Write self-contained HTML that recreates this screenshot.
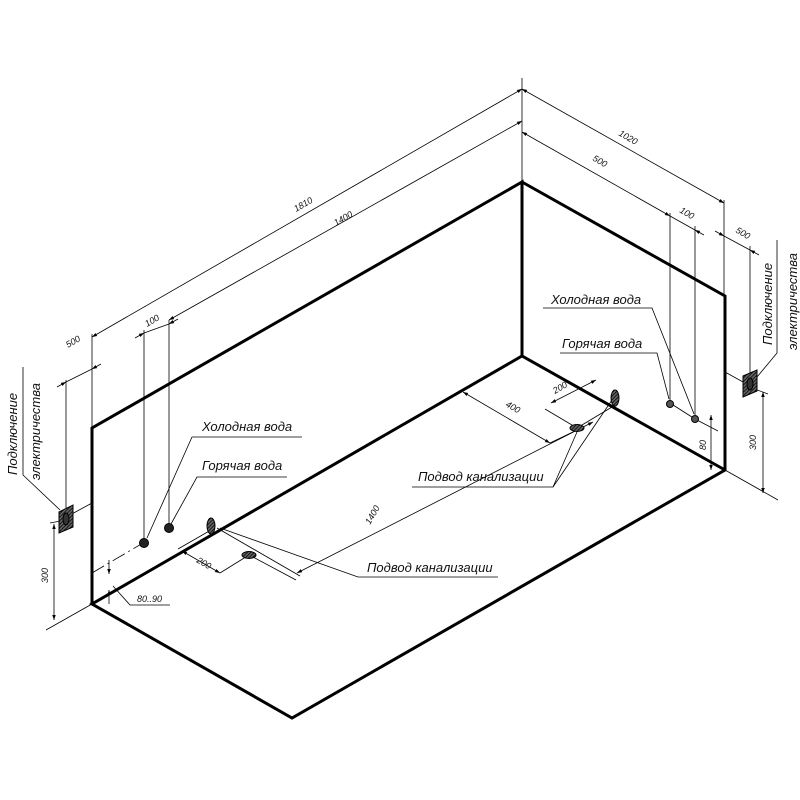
<!DOCTYPE html>
<html><head><meta charset="utf-8"><style>
html,body{margin:0;padding:0;background:#fff;}
svg{display:block;}
text{font-family:"Liberation Sans","DejaVu Sans",sans-serif;font-style:italic;fill:#111;}
.t{font-size:13px;}
.s{font-size:9px;}
</style></head><body>
<svg width="800" height="800" viewBox="0 0 800 800" xmlns="http://www.w3.org/2000/svg">
<defs>
<marker id="a" viewBox="0 0 10 10" refX="10" refY="5" markerWidth="8" markerHeight="5" orient="auto-start-reverse" markerUnits="userSpaceOnUse"><path d="M0,1.5 L10,5 L0,8.5 z" fill="#000"/></marker>
<pattern id="h" width="3" height="3" patternUnits="userSpaceOnUse" patternTransform="rotate(45)"><rect width="3" height="3" fill="#fff"/><line x1="0" y1="0" x2="0" y2="3" stroke="#000" stroke-width="1.6"/></pattern>
<pattern id="h2" width="2.5" height="2.5" patternUnits="userSpaceOnUse" patternTransform="rotate(45)"><rect width="2.5" height="2.5" fill="#666"/><line x1="0" y1="0" x2="0" y2="2.5" stroke="#000" stroke-width="1.6"/></pattern>
</defs>
<g stroke="#000" stroke-width="3" fill="none" stroke-linejoin="miter">
<polyline points="92,604 92,428 522,182 522,356"/>
<polyline points="522,182 725,296 725,470 292,718 92,604 522,356 725,470"/>
</g>
<g stroke="#000" stroke-width="0.8" fill="none">
<line x1="522" y1="78" x2="522" y2="182"/>
<line x1="92" y1="334" x2="92" y2="428"/>
<line x1="144" y1="330" x2="144" y2="540"/>
<line x1="169" y1="320" x2="169" y2="524"/>
<line x1="66" y1="380" x2="66" y2="508"/>
<line x1="724" y1="200" x2="724" y2="296"/>
<line x1="670" y1="213" x2="670" y2="400"/>
<line x1="695" y1="226" x2="695" y2="415"/>
<line x1="750" y1="246" x2="750" y2="376"/>
<line x1="725" y1="470" x2="778" y2="500"/>
<line x1="92" y1="604" x2="46" y2="630"/>
<line x1="70" y1="515" x2="92" y2="503"/>
<line x1="725" y1="372" x2="743" y2="382"/>
<line x1="695" y1="419" x2="718" y2="431"/>
<line x1="670" y1="403" x2="695" y2="419"/>
<line x1="92" y1="337" x2="522" y2="89" marker-start="url(#a)" marker-end="url(#a)"/>
<line x1="169" y1="320" x2="522" y2="121" marker-start="url(#a)" marker-end="url(#a)"/>
<line x1="135" y1="338" x2="144" y2="333" marker-end="url(#a)"/>
<line x1="178" y1="319" x2="169" y2="324" marker-end="url(#a)"/>
<line x1="144" y1="333" x2="169" y2="324"/>
<line x1="57" y1="387" x2="66" y2="382" marker-end="url(#a)"/>
<line x1="101" y1="364" x2="92" y2="369" marker-end="url(#a)"/>
<line x1="66" y1="382" x2="92" y2="369"/>
<line x1="522" y1="89" x2="724" y2="203" marker-start="url(#a)" marker-end="url(#a)"/>
<line x1="522" y1="132" x2="670" y2="216" marker-start="url(#a)" marker-end="url(#a)"/>
<line x1="670" y1="216" x2="695" y2="230"/>
<line x1="704" y1="235" x2="695" y2="230" marker-end="url(#a)"/>
<line x1="724" y1="236" x2="750" y2="250"/>
<line x1="715" y1="231" x2="724" y2="236" marker-end="url(#a)"/>
<line x1="759" y1="255" x2="750" y2="250" marker-end="url(#a)"/>
<line x1="54" y1="524" x2="54" y2="620" marker-start="url(#a)" marker-end="url(#a)"/>
<line x1="50" y1="523" x2="66" y2="520"/>
<line x1="763" y1="392" x2="763" y2="493" marker-start="url(#a)" marker-end="url(#a)"/>
<line x1="752" y1="388" x2="768" y2="394"/>
<line x1="711" y1="415" x2="711" y2="470" marker-start="url(#a)" marker-end="url(#a)"/>
<line x1="92" y1="573" x2="143" y2="543" stroke-dasharray="14,4,2,4"/>
<line x1="109" y1="560" x2="109" y2="574" marker-end="url(#a)"/>
<line x1="109" y1="604" x2="109" y2="590" marker-end="url(#a)"/>
<polyline points="113,586 130,605 170,605"/>
<polyline points="23,367 23,475 60,510"/>
<polyline points="777,240 777,353 757,377"/>
<polyline points="302,437 192,437 147,538" />
<polyline points="287,477 197,477 171,524"/>
<polyline points="543,308 652,308 694,414"/>
<polyline points="560,353 657,353 669,399"/>
<line x1="217" y1="528" x2="300" y2="576"/>
<line x1="249" y1="555" x2="220" y2="573"/>
<line x1="211" y1="530" x2="178" y2="549"/>
<line x1="182" y1="551" x2="220" y2="573" marker-start="url(#a)" marker-end="url(#a)"/>
<line x1="253" y1="557" x2="296" y2="580"/>
<line x1="297" y1="573" x2="593" y2="422" marker-start="url(#a)" marker-end="url(#a)"/>
<polyline points="498,577 358,577 220,528"/>
<line x1="463" y1="392" x2="550" y2="443" marker-start="url(#a)" marker-end="url(#a)"/>
<line x1="550" y1="443" x2="577" y2="430"/>
<line x1="545" y1="409" x2="577" y2="428"/>
<line x1="551" y1="403" x2="596" y2="380" marker-start="url(#a)" marker-end="url(#a)"/>
<line x1="577" y1="428" x2="612" y2="407"/>
<polyline points="412,487 553,487 577,432"/>
<line x1="553" y1="487" x2="612" y2="400"/>
</g>
<g stroke="#000" stroke-width="1">
<circle cx="144" cy="543" r="4.5" fill="#222"/>
<circle cx="169" cy="528" r="4.5" fill="#222"/>
<circle cx="670" cy="404" r="3.5" fill="#555"/>
<circle cx="695" cy="419" r="3.5" fill="#555"/>
<ellipse cx="211" cy="526" rx="4" ry="8" fill="url(#h2)"/>
<ellipse cx="615" cy="398" rx="4" ry="8" fill="url(#h2)"/>
<ellipse cx="249" cy="555" rx="7" ry="3.5" fill="url(#h2)"/>
<ellipse cx="577" cy="428" rx="7" ry="3.5" fill="url(#h2)"/>
<polygon points="59,512 73,505 73,527 59,533" fill="url(#h2)"/>
<ellipse cx="66" cy="519" rx="3" ry="6" fill="#333"/>
<polygon points="743,376 757,370 757,391 743,397" fill="url(#h2)"/>
<ellipse cx="750" cy="384" rx="3" ry="6" fill="#333"/>
</g>
<text class="t" x="202" y="431">Холодная вода</text>
<text class="t" x="202" y="470">Горячая вода</text>
<text class="t" x="551" y="304">Холодная вода</text>
<text class="t" x="562" y="348">Горячая вода</text>
<text class="t" x="367" y="572">Подвод канализации</text>
<text class="t" x="418" y="481">Подвод канализации</text>
<text class="s" x="137" y="602">80..90</text>
<text class="t" transform="translate(17,475) rotate(-90)">Подключение</text>
<text class="t" transform="translate(40,480) rotate(-90)">электричества</text>
<text class="t" transform="translate(772,345) rotate(-90)">Подключение</text>
<text class="t" transform="translate(797,350) rotate(-90)">электричества</text>
<text class="s" transform="translate(296,212) rotate(-30)">1810</text>
<text class="s" transform="translate(336,226) rotate(-30)">1400</text>
<text class="s" transform="translate(147,327) rotate(-30)">100</text>
<text class="s" transform="translate(68,348) rotate(-30)">500</text>
<text class="s" transform="translate(618,135) rotate(30)">1020</text>
<text class="s" transform="translate(592,160) rotate(30)">500</text>
<text class="s" transform="translate(679,212) rotate(30)">100</text>
<text class="s" transform="translate(735,232) rotate(30)">500</text>
<text class="s" transform="translate(48,583) rotate(-90)">300</text>
<text class="s" transform="translate(756,450) rotate(-90)">300</text>
<text class="s" transform="translate(706,450) rotate(-90)">80</text>
<text class="s" transform="translate(196,562) rotate(30)">200</text>
<text class="s" transform="translate(370,525) rotate(-60)">1400</text>
<text class="s" transform="translate(505,406) rotate(30)">400</text>
<text class="s" transform="translate(555,394) rotate(-30)">200</text>
</svg>
</body></html>
